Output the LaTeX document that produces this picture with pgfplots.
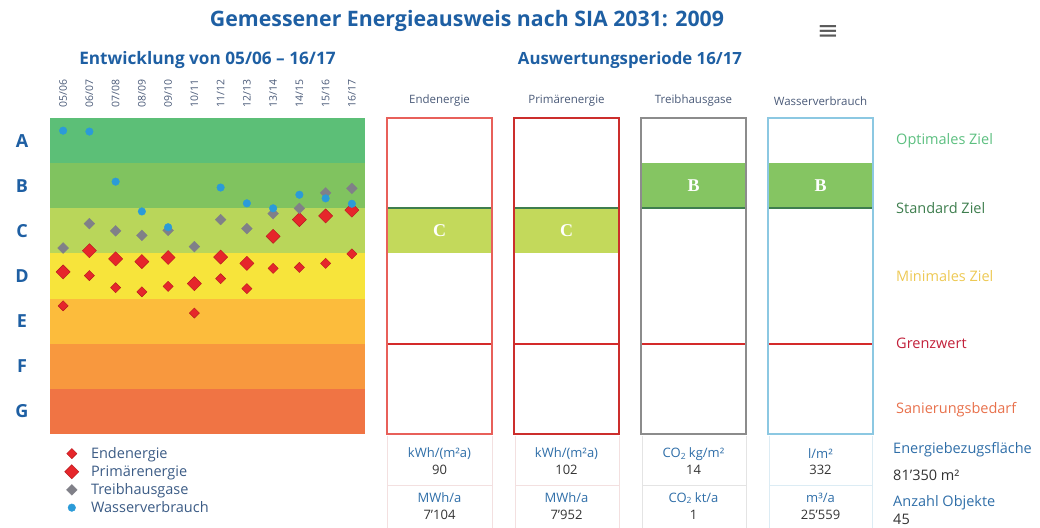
\documentclass[border=0pt]{standalone}
\usepackage{pgfplots}
\usepackage{pgfplotstable}
\pgfplotsset{compat=1.18}
\usepackage{fontspec}
\setmainfont{Open Sans}
\newfontfamily\serifb{Liberation Serif}
\newfontfamily\dejavu{DejaVu Sans}
\definecolor{bandA}{HTML}{5CBF77}
\definecolor{bandB}{HTML}{80C35F}
\definecolor{bandC}{HTML}{B9D65A}
\definecolor{bandD}{HTML}{F7E43B}
\definecolor{bandE}{HTML}{FCBC3C}
\definecolor{bandF}{HTML}{F8983E}
\definecolor{bandG}{HTML}{F07444}
\definecolor{titleblue}{HTML}{1E5FA3}
\definecolor{labgray}{HTML}{4A5A78}
\definecolor{legblue}{HTML}{3B5B85}
\definecolor{redd}{HTML}{E6262B}
\definecolor{redb}{HTML}{B51A1E}
\definecolor{grayd}{HTML}{808088}
\definecolor{blued}{HTML}{2B9BD8}
\definecolor{boxred1}{HTML}{E8605A}
\definecolor{boxred2}{HTML}{CC2E2C}
\definecolor{boxgray}{HTML}{8C8C8C}
\definecolor{boxblue}{HTML}{8CC8E2}
\definecolor{stdgreen}{HTML}{3E7E4E}
\definecolor{optgreen}{HTML}{5CBF80}
\definecolor{minyellow}{HTML}{EDC955}
\definecolor{grenzred}{HTML}{C2203A}
\definecolor{linered}{HTML}{D42A2A}
\definecolor{sanorange}{HTML}{E8714C}
\definecolor{boxC}{HTML}{C3D95B}
\definecolor{boxB}{HTML}{85C562}
\definecolor{unitblue}{HTML}{2F6EA8}
\definecolor{valdark}{HTML}{333333}
\definecolor{cellred}{HTML}{F3E0E0}
\definecolor{cellgray}{HTML}{E4E4E4}
\definecolor{cellblue}{HTML}{DCECF4}
\newcommand{\fs}[1]{\fontsize{#1bp}{#1bp}\selectfont}
\newcommand{\cotwo}{CO\raisebox{-0.25ex}{\fs{8.5}2}}

\pgfplotstableread{
x end prim thg water
0 2.84 3.59 4.12 6.72
1 3.51 4.06 4.66 6.70
2 3.24 3.88 4.50 5.59
3 3.15 3.82 4.40 4.93
4 3.27 3.91 4.51 4.58
5 2.68 3.33 4.15 nan
6 3.44 3.92 4.75 5.46
7 3.22 3.78 4.55 5.11
8 3.67 4.38 4.88 5.00
9 3.69 4.75 5.00 5.30
10 3.78 4.83 5.34 5.22
11 3.99 4.96 5.44 5.10
}\datatable

\begin{document}
\begin{tikzpicture}[x=1bp,y=1bp]
\useasboundingbox (0,0) rectangle (1040,-528);

% ---------- left: development chart ----------
\begin{axis}[
  at={(50bp,-434bp)}, anchor=south west,
  scale only axis, width=315bp, height=316bp,
  xmin=-0.5, xmax=11.5, ymin=0, ymax=7,
  axis line style={draw=none},
  clip=false,
  xtick={0,...,11},
  xticklabels={05/06,06/07,07/08,08/09,09/10,10/11,11/12,12/13,13/14,14/15,15/16,16/17},
  xticklabel pos=upper,
  x tick label style={rotate=90, anchor=west, font=\fs{10.5}, text=labgray, inner xsep=10bp, inner ysep=0pt},
  ytick=\empty,
  major tick length=0pt,
  legend style={at={(0.041,-0.04)}, anchor=north west, draw=none, fill=none,
    font=\fs{14.5}, text=legblue, row sep=4.3bp, inner sep=0pt,
    nodes={inner sep=0.5bp}},
  legend cell align=left,
  legend image code/.code={\path (0bp,0bp) (27bp,0bp); \draw[#1] plot coordinates {(8.5bp,0bp)};},
]
\addplot[fill=bandG, draw=none, forget plot] coordinates {(-0.5,0) (11.5,0) (11.5,1) (-0.5,1)} -- cycle;
\addplot[fill=bandF, draw=none, forget plot] coordinates {(-0.5,1) (11.5,1) (11.5,2) (-0.5,2)} -- cycle;
\addplot[fill=bandE, draw=none, forget plot] coordinates {(-0.5,2) (11.5,2) (11.5,3) (-0.5,3)} -- cycle;
\addplot[fill=bandD, draw=none, forget plot] coordinates {(-0.5,3) (11.5,3) (11.5,4) (-0.5,4)} -- cycle;
\addplot[fill=bandC, draw=none, forget plot] coordinates {(-0.5,4) (11.5,4) (11.5,5) (-0.5,5)} -- cycle;
\addplot[fill=bandB, draw=none, forget plot] coordinates {(-0.5,5) (11.5,5) (11.5,6) (-0.5,6)} -- cycle;
\addplot[fill=bandA, draw=none, forget plot] coordinates {(-0.5,6) (11.5,6) (11.5,7) (-0.5,7)} -- cycle;

\addplot[only marks, mark=square*, mark size=3.6bp, mark options={rotate=45, fill=redd, draw=redb, line width=0.4bp}] table[x=x, y=end] {\datatable};
\addlegendentry{Endenergie}
\addplot[only marks, mark=square*, mark size=5bp, mark options={rotate=45, fill=redd, draw=redb, line width=0.4bp}] table[x=x, y=prim] {\datatable};
\addlegendentry{Primärenergie}
\addplot[only marks, mark=square*, mark size=3.8bp, mark options={rotate=45, fill=grayd, draw=grayd}] table[x=x, y=thg] {\datatable};
\addlegendentry{Treibhausgase}
\addplot[only marks, mark=*, mark size=3.8bp, mark options={fill=blued, draw=blued}] table[x=x, y=water] {\datatable};
\addlegendentry{Wasserverbrauch}

\node[font=\fs{18}\bfseries, text=titleblue] at (axis cs:-0.5,6.5) [xshift=-28bp] {A};
\node[font=\fs{18}\bfseries, text=titleblue] at (axis cs:-0.5,5.5) [xshift=-28bp] {B};
\node[font=\fs{18}\bfseries, text=titleblue] at (axis cs:-0.5,4.5) [xshift=-28bp] {C};
\node[font=\fs{18}\bfseries, text=titleblue] at (axis cs:-0.5,3.5) [xshift=-28bp] {D};
\node[font=\fs{18}\bfseries, text=titleblue] at (axis cs:-0.5,2.5) [xshift=-28bp] {E};
\node[font=\fs{18}\bfseries, text=titleblue] at (axis cs:-0.5,1.5) [xshift=-28bp] {F};
\node[font=\fs{18}\bfseries, text=titleblue] at (axis cs:-0.5,0.5) [xshift=-28bp] {G};
\end{axis}

% ---------- right: current period ----------
\begin{axis}[
  at={(376bp,-434bp)}, anchor=south west,
  scale only axis, width=508bp, height=316bp,
  xmin=-0.5, xmax=3.5, ymin=0, ymax=7,
  axis line style={draw=none},
  clip=false,
  xtick=\empty, ytick=\empty,
]
% class bands of period 16/17
\addplot[fill=boxC, draw=none] coordinates {(-0.413,4) (0.413,4) (0.413,5) (-0.413,5)} -- cycle;
\addplot[fill=boxC, draw=none] coordinates {(0.587,4) (1.413,4) (1.413,5) (0.587,5)} -- cycle;
\addplot[fill=boxB, draw=none] coordinates {(1.587,5) (2.413,5) (2.413,6) (1.587,6)} -- cycle;
\addplot[fill=boxB, draw=none] coordinates {(2.587,5) (3.413,5) (3.413,6) (2.587,6)} -- cycle;
% target lines
\addplot[stdgreen, line width=2bp] coordinates {(-0.413,5) (0.413,5)};
\addplot[stdgreen, line width=2bp] coordinates {(0.587,5) (1.413,5)};
\addplot[stdgreen, line width=2bp] coordinates {(1.587,5) (2.413,5)};
\addplot[stdgreen, line width=2bp] coordinates {(2.587,5) (3.413,5)};
\addplot[linered, line width=2bp] coordinates {(-0.413,2) (0.413,2)};
\addplot[linered, line width=2bp] coordinates {(0.587,2) (1.413,2)};
\addplot[linered, line width=2bp] coordinates {(1.587,2) (2.413,2)};
\addplot[linered, line width=2bp] coordinates {(2.587,2) (3.413,2)};
% box outlines
\addplot[boxred1, line width=1.6bp] coordinates {(-0.413,0) (0.413,0) (0.413,7) (-0.413,7)} -- cycle;
\addplot[boxred2, line width=1.6bp] coordinates {(0.587,0) (1.413,0) (1.413,7) (0.587,7)} -- cycle;
\addplot[boxgray, line width=1.6bp] coordinates {(1.587,0) (2.413,0) (2.413,7) (1.587,7)} -- cycle;
\addplot[boxblue, line width=1.6bp] coordinates {(2.587,0) (3.413,0) (3.413,7) (2.587,7)} -- cycle;

\node[text=white, font=\serifb\bfseries\fs{18}] at (axis cs:0,4.5) {C};
\node[text=white, font=\serifb\bfseries\fs{18}] at (axis cs:1,4.5) {C};
\node[text=white, font=\serifb\bfseries\fs{18}] at (axis cs:2,5.5) {B};
\node[text=white, font=\serifb\bfseries\fs{18}] at (axis cs:3,5.5) {B};

\node[font=\fs{11.5}, text=labgray] at (axis cs:0,7) [yshift=17bp] {Endenergie};
\node[font=\fs{11.5}, text=labgray] at (axis cs:1,7) [yshift=17bp] {Primärenergie};
\node[font=\fs{11.5}, text=labgray] at (axis cs:2,7) [yshift=17bp] {Treibhausgase};
\node[font=\fs{11.5}, text=labgray] at (axis cs:3,7) [yshift=17bp] {Wasserverbrauch};
\end{axis}

% ---------- table cells below boxes ----------
\draw[cellred, line width=1bp] (387,-436) -- (387,-528) (492,-436) -- (492,-528) (387,-485) -- (492,-485);
\draw[cellred, line width=1bp] (515,-436) -- (515,-528) (619,-436) -- (619,-528) (515,-485) -- (619,-485);
\draw[cellgray, line width=1bp] (642,-436) -- (642,-528) (746,-436) -- (746,-528) (642,-485) -- (746,-485);
\draw[cellblue, line width=1bp] (769,-436) -- (769,-528) (872,-436) -- (872,-528) (769,-485) -- (872,-485);

\begin{scope}[every node/.style={font=\fs{13}, inner sep=0pt}]
\node[text=unitblue] at (439.5,-454) {kWh/(m²a)};
\node[text=valdark]  at (439.5,-470) {90};
\node[text=unitblue] at (439.5,-498) {MWh/a};
\node[text=valdark]  at (439.5,-515) {7'104};
\node[text=unitblue] at (566.5,-454) {kWh/(m²a)};
\node[text=valdark]  at (566.5,-470) {102};
\node[text=unitblue] at (566.5,-498) {MWh/a};
\node[text=valdark]  at (566.5,-515) {7'952};
\node[text=unitblue] at (693.5,-454) {\cotwo\ kg/m²};
\node[text=valdark]  at (693.5,-470) {14};
\node[text=unitblue] at (693.5,-498) {\cotwo\ kt/a};
\node[text=valdark]  at (693.5,-515) {1};
\node[text=unitblue] at (820.5,-454) {l/m²};
\node[text=valdark]  at (820.5,-470) {332};
\node[text=unitblue] at (820.5,-498) {m³/a};
\node[text=valdark]  at (820.5,-515) {25'559};
\end{scope}
\begin{scope}[every node/.style={font=\fs{14.5}, inner sep=0pt, anchor=west}]
\node[text=unitblue] at (893,-450) {Energiebezugsfläche};
\node[text=valdark]  at (893,-475) {81'350 m²};
\node[text=unitblue] at (893,-503) {Anzahl Objekte};
\node[text=valdark]  at (893,-519) {45};
\end{scope}

% ---------- right labels ----------
\begin{scope}[every node/.style={font=\fs{14.5}, anchor=west, inner sep=0pt}]
\node[text=optgreen]  at (896,-141) {Optimales Ziel};
\node[text=stdgreen]  at (896,-208) {Standard Ziel};
\node[text=minyellow] at (896,-276) {Minimales Ziel};
\node[text=grenzred]  at (896,-343) {Grenzwert};
\node[text=sanorange] at (896,-410) {Sanierungsbedarf};
\end{scope}

% ---------- titles ----------
\node[font=\fs{21.3}\bfseries, text=titleblue] at (467,-21) {Gemessener Energieausweis nach SIA 2031: 2009};
\node[font=\dejavu\fs{26}, text=black!65] at (828,-33) {≡};
\node[font=\fs{17.2}\bfseries, text=titleblue] at (207.5,-60) {Entwicklung von 05/06 -- 16/17};
\node[font=\fs{16.8}\bfseries, text=titleblue] at (630,-60) {Auswertungsperiode 16/17};
\end{tikzpicture}
\end{document}
